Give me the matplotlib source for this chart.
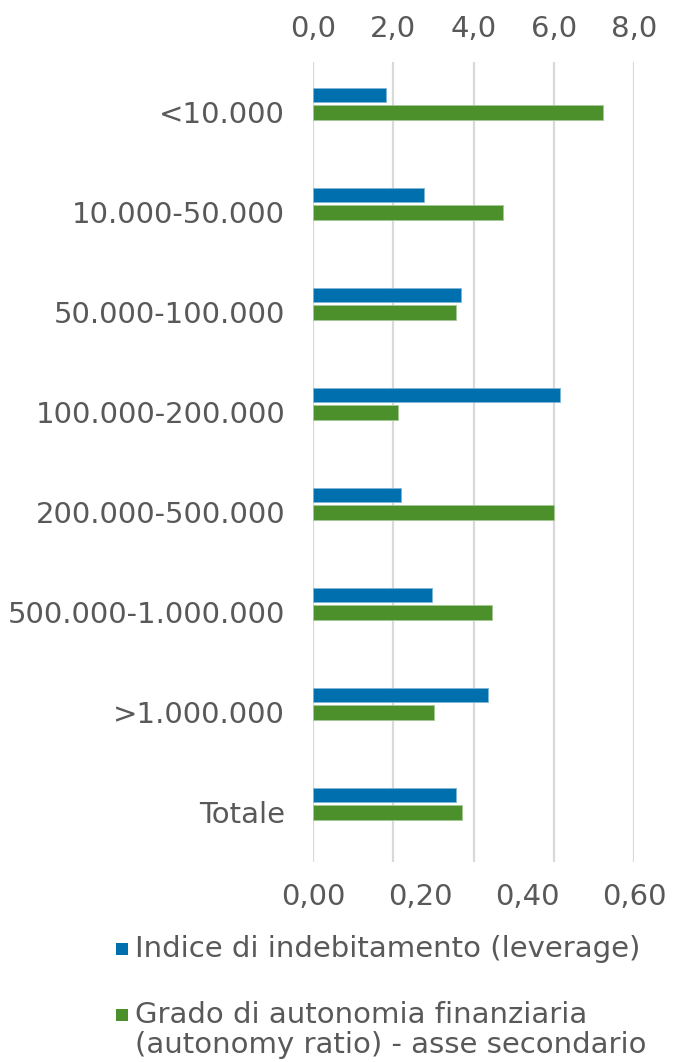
import numpy as np
import matplotlib
matplotlib.use("Agg")
from matplotlib import pyplot as plt
from matplotlib.patches import Rectangle
from matplotlib.ticker import FuncFormatter

# categories (top to bottom) and values
categories = ["<10.000", "10.000-50.000", "50.000-100.000", "100.000-200.000",
              "200.000-500.000", "500.000-1.000.000", ">1.000.000", "Totale"]
leverage = [0.136, 0.208, 0.277, 0.462, 0.164, 0.222, 0.327, 0.267]
autonomy = [7.23, 4.74, 3.57, 2.13, 6.00, 4.45, 3.02, 3.71]

blue = "#006FAD"
green = "#4B902A"
grey_txt = "#595959"
grid_col = "#D9D9D9"

plt.rcParams['font.family'] = ['DejaVu Sans']
fs = 21

fig = plt.figure(figsize=(6.73, 10.62), dpi=100)
ax = fig.add_axes([313 / 673, 1 - 862 / 1062, 321 / 673, 800 / 1062])
ax2 = ax.twiny()

y = np.arange(len(categories))

# gridlines follow the secondary scale (0, 2, 4, 6, 8)
for g in np.linspace(0, 0.6, 5):
    ax.axvline(g, color=grid_col, linewidth=1.6, zorder=0)

# primary axis (bottom): leverage
ax.barh(y - 0.17, leverage, height=0.145, color=blue, edgecolor="#7FB5D6",
        linewidth=0.6, zorder=3)
ax.set_xlim(0, 0.6)
ax.set_xticks([0, 0.2, 0.4, 0.6])
ax.xaxis.set_major_formatter(FuncFormatter(lambda v, p: f"{v:.2f}".replace(".", ",")))

# secondary axis (top): autonomy ratio
ax2.barh(y, autonomy, height=0.15, color=green, edgecolor="#A5C895",
         linewidth=0.6, zorder=3)
ax2.set_xlim(0, 8)
ax2.set_xticks([0, 2, 4, 6, 8])
ax2.xaxis.set_major_formatter(FuncFormatter(lambda v, p: f"{v:.1f}".replace(".", ",")))

ax.set_ylim(len(categories) - 0.5, -0.5)
ax.set_yticks(y)
ax.set_yticklabels(categories)

for a in (ax, ax2):
    for s in a.spines.values():
        s.set_visible(False)
    a.tick_params(which="both", length=0, labelsize=fs, labelcolor=grey_txt)
ax.tick_params(axis="x", pad=15)
ax.tick_params(axis="y", pad=20)
ax2.xaxis.set_tick_params(which="major", pad=14)

# legend drawn by hand so the square sits on the first line of each entry
def fx(px):
    return px / 673

def fy(py):
    return 1 - py / 1062

legend_items = [(blue, "Indice di indebitamento (leverage)", 950),
                (green, "Grado di autonomia finanziaria\n(autonomy ratio) - asse secondario", 1016)]
for col, txt, yc in legend_items:
    fig.patches.append(Rectangle((fx(116), fy(yc + 5)), 12 / 673, 12 / 1062,
                                 transform=fig.transFigure, facecolor=col, edgecolor="none"))
    fig.text(fx(135), fy(yc - 15), txt, fontsize=fs, color=grey_txt, va="top", ha="left",
             linespacing=1.08)

fig.savefig("out.png", dpi=100)
